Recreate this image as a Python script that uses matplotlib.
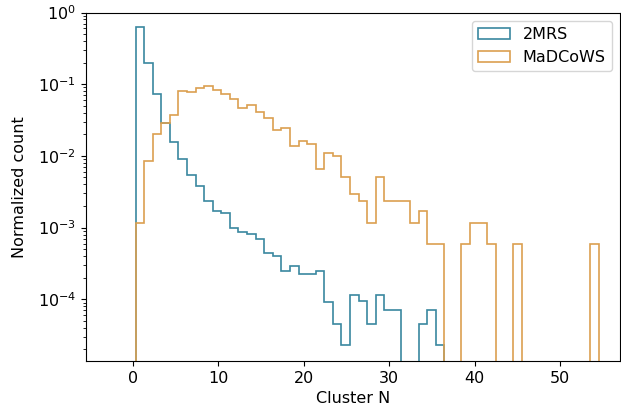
import matplotlib
matplotlib.use("Agg")
import matplotlib.pyplot as plt
import numpy as np

plt.rcParams['font.size'] = 11.5

# bordes de los bins (anchura ~1)
bin_edges = np.linspace(0.3, 54.5, 55)
bin_centers = 0.5 * (bin_edges[:-1] + bin_edges[1:])

# valores normalizados (uno por bin)
mrs_2 = [0.637, 0.196, 0.0725, 0.029, 0.0158, 0.0091, 0.0055, 0.00385, 0.00238, 0.0017,
         0.00158, 0.00098, 0.00088, 0.00082, 0.000695, 0.000447, 0.000407, 0.000249, 0.000292, 0.000225,
         0.000225, 0.00025, 9.3e-05, 4.5e-05, 2.3e-05, 0.000115, 9.5e-05, 4.5e-05, 0.000115, 7.1e-05,
         7.1e-05, 0, 0, 4.5e-05, 7.1e-05, 2.3e-05, 0, 0, 0, 0,
         0, 0, 0, 0, 0, 0, 0, 0, 0, 0,
         0, 0, 0, 0]
madcows = [0.00117, 0.0086, 0.020, 0.029, 0.037, 0.0815, 0.079, 0.088, 0.093, 0.083,
           0.072, 0.062, 0.046, 0.051, 0.0415, 0.0336, 0.023, 0.0243, 0.0138, 0.0159,
           0.0147, 0.0066, 0.0111, 0.0101, 0.00514, 0.00295, 0.00238, 0.00115, 0.00514, 0.00238,
           0.00238, 0.00238, 0.00115, 0.00172, 0.0006, 0.0006, 0, 0, 0.0006, 0.00115,
           0.00115, 0.0006, 0, 0, 0.0006, 0, 0, 0, 0, 0,
           0, 0, 0, 0.0006]

fig = plt.figure(figsize=(6.21, 4.09), dpi=100)
ax = fig.add_axes([0.1385, 0.1174, 0.8600, 0.8520])

ax.hist(bin_centers, bins=bin_edges, weights=mrs_2, histtype='step',
        color='#3a87a0', linewidth=1.2, label='2MRS')
ax.hist(bin_centers, bins=bin_edges, weights=madcows, histtype='step',
        color='#dba050', linewidth=1.2, label='MaDCoWS')

ax.set_yscale('log')
ax.set_xlim(-5.5, 57.0)
ax.set_ylim(1.38e-5, 1.0)
ax.set_xlabel('Cluster N')
ax.set_ylabel('Normalized count', labelpad=7.5)
ax.legend(loc='upper right')

fig.savefig('out.png', dpi=100)
